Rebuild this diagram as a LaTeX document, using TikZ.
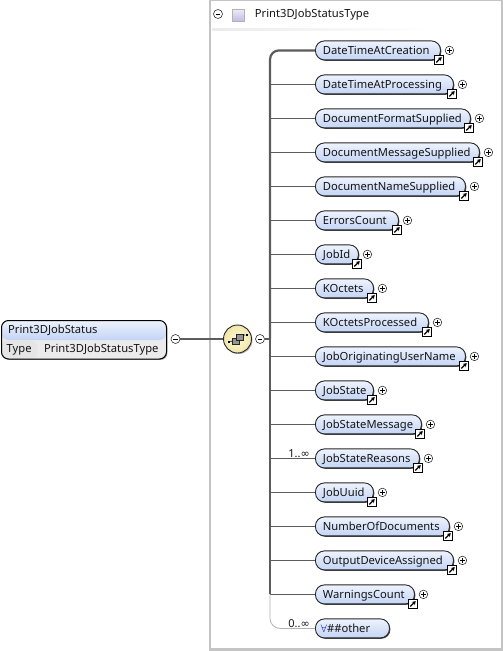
\documentclass[tikz,border=0pt]{standalone}
\usepackage{fontspec}
\setmainfont{Noto Sans}
\newfontfamily\symfont{DejaVu Sans}
\usepackage{xcolor}
\usetikzlibrary{positioning, shadows, arrows.meta, calc}

\definecolor{connline}{HTML}{5C5C5C}
\definecolor{framegray}{HTML}{C4C4C4}
\definecolor{elemtop}{HTML}{EEF3FD}
\definecolor{elembot}{HTML}{C3D4F5}
\definecolor{compcream}{HTML}{FFFBD6}
\definecolor{comprim}{HTML}{EFE6A8}
\definecolor{typetop}{HTML}{EFEBF8}
\definecolor{typebot}{HTML}{C6BAE6}

\tikzset{
  txt/.style={font=\fontsize{11.2}{13}\selectfont, text=black!92, inner sep=0pt},
  elem/.style={txt, draw=black!85, line width=0.9pt, rounded corners=9pt, minimum height=19pt,
    top color=elemtop, bottom color=elembot, anchor=west, align=left, text width=#1-15pt, minimum width=#1, inner xsep=7.5pt,
    text height=10.4pt, text depth=1.6pt,
    drop shadow={shadow xshift=0.9pt, shadow yshift=-0.9pt, fill=black!80, opacity=0.9}},
  next/.style={below=34pt of #1.west, anchor=west},
  plusbtn/.style={circle, draw=black!80, fill=white, line width=0.6pt, minimum size=8.5pt, inner sep=0pt,
    path picture={\draw[line width=0.6pt, black]
      ([xshift=-2.4pt]path picture bounding box.center) -- ([xshift=2.4pt]path picture bounding box.center)
      ([yshift=-2.4pt]path picture bounding box.center) -- ([yshift=2.4pt]path picture bounding box.center);}},
  minusbtn/.style={circle, draw=black!80, fill=white, line width=0.6pt, minimum size=9pt, inner sep=0pt,
    path picture={\draw[line width=0.6pt, black]
      ([xshift=-2.4pt]path picture bounding box.center) -- ([xshift=2.4pt]path picture bounding box.center);}},
  linkbox/.style={rectangle, draw=black, fill=white, line width=0.8pt, minimum size=9pt, inner sep=0pt,
    path picture={\draw[line width=1.3pt, -{Stealth[length=3.6pt, width=4.4pt]}]
      ([shift={(-2.6pt,-2.6pt)}]path picture bounding box.center) -- ([shift={(2.8pt,2.8pt)}]path picture bounding box.center);}},
  conn/.style={draw=connline, line width=1.8pt},
  occ/.style={font=\fontsize{11}{12}\selectfont, text=black!92, inner sep=0pt},
  smallsq/.style={draw=black!85, fill=black!42, line width=0.5pt, minimum size=6.5pt, inner sep=0pt},
}

\begin{document}
\begin{tikzpicture}[x=1pt, y=-1pt]
    \useasboundingbox (0,0) rectangle (503,651);

    % frame of the type
    \fill[framegray] (209,0) rectangle (503,1);
    \fill[framegray] (209,0) rectangle (210.5,649);
    \fill[framegray] (501,0) rectangle (503,649);
    \fill[framegray] (209,648) rectangle (503,651);
    \shade[left color=black!8, right color=white] (212,28) rectangle (430,30);

    \node[minusbtn] (typeminus) at (218,14) {};
    \node[draw=black!30, top color=typetop, bottom color=typebot, minimum size=12pt, inner sep=0pt] (typeicon) at (238.5,15) {};
    \node[txt, right=10pt of typeicon] (typetitle) {Print3DJobStatusType};

    % elements
    \node[elem=125pt] (creation) at (315,50.4) {DateTimeAtCreation};
    \node[elem=138pt, next=creation] (processing) {DateTimeAtProcessing};
    \node[elem=155pt, next=processing] (format) {DocumentFormatSupplied};
    \node[elem=164pt, next=format] (message) {DocumentMessageSupplied};
    \node[elem=150pt, next=message] (docname) {DocumentNameSupplied};
    \node[elem=83pt, next=docname] (errors) {ErrorsCount};
    \node[elem=43pt, next=errors] (jobid) {JobId};
    \node[elem=58pt, next=jobid] (koctets) {KOctets};
    \node[elem=113pt, next=koctets] (kprocessed) {KOctetsProcessed};
    \node[elem=150pt, next=kprocessed] (username) {JobOriginatingUserName};
    \node[elem=58pt, next=username] (jobstate) {JobState};
    \node[elem=106pt, next=jobstate] (statemsg) {JobStateMessage};
    \node[elem=104pt, next=statemsg] (reasons) {JobStateReasons};
    \node[elem=58pt, next=reasons] (jobuuid) {JobUuid};
    \node[elem=134pt, next=jobuuid] (numdocs) {NumberOfDocuments};
    \node[elem=138pt, next=numdocs] (device) {OutputDeviceAssigned};
    \node[elem=99pt, next=device] (warnings) {WarningsCount};
    \node[elem=74pt, next=warnings] (other) {\hspace*{-2pt}\textcolor{blue!70!black}{$\forall$}\#\#other};

    % compartment in the middle
    \coordinate (spine) at (270,339);
    \node[circle, draw=black!85, line width=0.9pt, minimum size=28pt, inner sep=0pt, inner color=compcream, outer color=comprim,
      drop shadow={shadow xshift=1pt, shadow yshift=-1pt, fill=black!60}] (comp) at (237.5,339) {};
    \node[smallsq] (sqa) at ([shift={(-2,2)}]comp.center) {};
    \node[smallsq] (sqb) at ([shift={(2,-2)}]comp.center) {};
    \node[fill=black, minimum size=2pt, inner sep=0pt] (stuba) at ([shift={(-9,2.5)}]comp.center) {};
    \node[fill=black, minimum size=2pt, inner sep=0pt] (stubb) at ([shift={(9,-4)}]comp.center) {};
    \draw[line width=0.7pt] (stuba) -- (sqa) (sqb.east |- stubb) -- (stubb);
    \node[minusbtn] (compminus) at (260,339) {};

    % the global element
    \node[draw=black, line width=1pt, rounded corners=7pt, minimum width=165pt, minimum height=38.5pt, anchor=north west, inner sep=0pt,
      drop shadow={shadow xshift=0.9pt, shadow yshift=-0.9pt, fill=black!80},
      path picture={
        \fill[white!92!black] (path picture bounding box.south west) rectangle (path picture bounding box.north east);
        \shade[top color=elemtop, bottom color=elembot] (path picture bounding box.north west) rectangle ([yshift=-19.5pt]path picture bounding box.north east);
        \fill[black!10] ([yshift=-20pt]path picture bounding box.north west) rectangle ([xshift=36pt]path picture bounding box.south west);
      }] (jobstatus) at (1,320) {};
    \node[txt, anchor=west] (statusname) at (8,330) {Print3DJobStatus};
    \node[txt, anchor=west] (typekey) at (6.5,349.5) {Type};
    \node[txt, anchor=west] (typeval) at (44,349.5) {Print3DJobStatusType};
    \node[minusbtn] (statusminus) at (175.5,339) {};

    % connectors
    \draw[conn] (statusminus) -- (comp);
    \draw[conn] (compminus) -- (spine);
    \draw[conn, line width=2.2pt, rounded corners=9pt] (creation.west) -| (spine);
    \draw[conn, line width=2.2pt] (spine) -- (spine |- warnings.west);
    \foreach \elemname in {processing, format, message, docname, errors, jobid, koctets, kprocessed, username, jobstate, statemsg, reasons, jobuuid, numdocs, device, warnings}
      \draw[conn] (spine |- \elemname.west) -- (\elemname.west);
    \draw[draw=black!30, line width=0.8pt, rounded corners=10pt] (spine |- warnings.west) |- (other.west);

    % plus button and link arrow
    \foreach \elemname in {creation, processing, format, message, docname, errors, jobid, koctets, kprocessed, username, jobstate, statemsg, reasons, jobuuid, numdocs, device, warnings} {
      \node[plusbtn, right=4pt of \elemname.east] (plus\elemname) {};
      \node[linkbox] (link\elemname) at ([shift={(-2,9.5)}]\elemname.east) {};
    }

    \node[occ, above left=1pt and 5pt of reasons.west] (occreasons) {1..{\symfont ∞}};
    \node[occ, above left=1pt and 5pt of other.west] (occother) {0..{\symfont ∞}};
\end{tikzpicture}
\end{document}
